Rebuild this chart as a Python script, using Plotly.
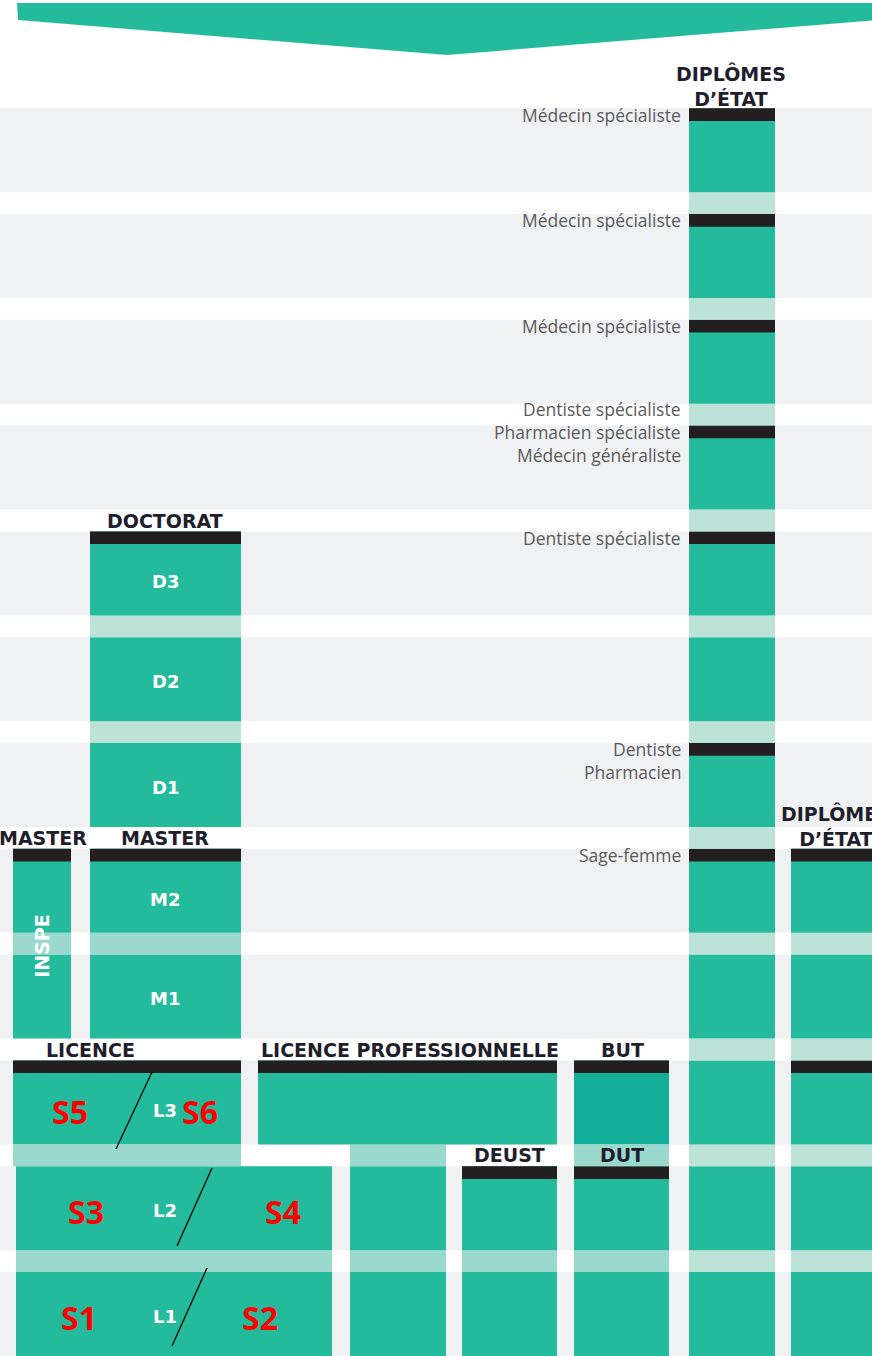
import plotly.graph_objects as go

# ---------------- DATA ----------------
years = list(range(1, 13))  # années après le bac

col_names = ["Licence L1-L2", "Licence L3", "Passerelle LP", "Licence professionnelle",
             "DEUST", "DUT", "BUT", "Master INSPE", "Master", "Doctorat",
             "Diplômes d'État santé", "Diplômes d'État paramédicaux"]
col_first = [1, 3, 1, 3, 1, 1, 3, 4, 4, 6, 1, 1]
col_last = [2, 3, 2, 3, 2, 2, 3, 5, 5, 8, 12, 5]
col_exits = [[], [3], [], [3], [2], [2], [3], [5], [5], [8], [5, 6, 8, 9, 10, 11, 12], [3, 5]]
col_band_before = [False, True, False, False, False, False, True, False, False, False, False, False]
col_band_after = [False, False, True, False, False, False, False, False, False, False, False, False]
col_year_labels = [{1: "L1", 2: "L2"}, {3: "L3"}, {}, {}, {}, {}, {}, {}, {4: "M1", 5: "M2"},
                   {6: "D1", 7: "D2", 8: "D3"}, {}, {}]

header_texts = ["DIPLÔMES<br>D’ÉTAT", "DOCTORAT", "MASTER", "MASTER", "DIPLÔMES<br>D’ÉTAT",
                "LICENCE", "LICENCE PROFESSIONNELLE", "BUT", "DEUST", "DUT"]
header_year = [12, 8, 5, 5, 5, 3, 3, 3, 2, 2]

sante_years = [12, 11, 10, 9, 8, 6, 5]
sante_labels = [["Médecin spécialiste"], ["Médecin spécialiste"], ["Médecin spécialiste"],
                ["Dentiste spécialiste", "Pharmacien spécialiste", "Médecin généraliste"],
                ["Dentiste spécialiste"], ["Dentiste", "Pharmacien"], ["Sage-femme"]]
sante_first_line = [0, 0, 0, -1, 0, 0, 0]

sem_names = ["S1", "S2", "S3", "S4", "S5", "S6"]
sem_year = [1, 1, 2, 2, 3, 3]

inspe_label = "INSPE"

# ---------------- LAYOUT / STYLE ----------------
FIG_W, FIG_H = 872, 1356
PX_PER_YEAR = 105.8
Y_MAX = FIG_H / PX_PER_YEAR
BAND = 0.794
BAR = 0.12

col_x0 = [16, 13, 350, 258, 462, 574, 574, 13, 90, 90, 689, 791]
col_x1 = [332, 241, 446, 557, 557, 669, 669, 71, 241, 241, 775, 882]
col_label_x = [165, 165, None, None, None, None, None, 42, 165, 165, None, None]
header_x = [731, 165, 43, 165, 836, 90, 410, 622, 509, 622]
sem_x = [79, 260, 86, 283, 70, 200]
sante_label_x = 683
slash_top = [(152, 1072), (212, 1168), (207, 1268)]
slash_bot = [(116, 1149), (177, 1246), (172, 1346)]

GREEN = "#24bb9c"
GREEN_DARK = "#13ae97"
BLACK = "#231f20"
LIGHT_A = "#bde2d8"
LIGHT_B = "#9bd9cf"
GREY = "#f0f1f3"
col_fill = [GREEN] * 6 + [GREEN_DARK] + [GREEN] * 5
col_light = [LIGHT_B] * 9 + [LIGHT_A] * 3

HEAD_FONT = dict(family="DejaVu Sans", size=19, color="#1e1e2c", weight="bold")
BOX_FONT = dict(family="DejaVu Sans", size=18, color="white", weight="bold")
JOB_FONT = dict(family="Open Sans", size=17.5, color="#5a5a5a")
SEM_FONT = dict(family="Open Sans", size=32, color="#ff0000", weight="bold")


def bb(k):
    return k - 1


def bt(k):
    return k - 1 + BAND


def py(p):
    return (FIG_H - p) / PX_PER_YEAR


shapes = []
annotations = []


def rect(x0, x1, y0, y1, color):
    shapes.append(dict(type="rect", xref="x", yref="y", x0=x0, x1=x1, y0=y0, y1=y1,
                       fillcolor=color, line=dict(width=0), layer="above"))


# grey year rows
for k in years:
    rect(0, FIG_W + 10, bb(k), bt(k), GREY)

# top arrow
shapes.append(dict(type="path", xref="x", yref="y",
                   path=f"M 17,{py(3)} L {FIG_W + 6},{py(3)} L {FIG_W + 6},{py(20)} "
                        f"L 447,{py(55)} L 18,{py(20)} Z",
                   fillcolor=GREEN, line=dict(width=0)))

# formation columns
for i, name in enumerate(col_names):
    x0, x1 = col_x0[i], col_x1[i]
    for k in range(col_first[i], col_last[i] + 1):
        rect(x0, x1, bb(k), bt(k), col_fill[i])
        if k in col_exits[i]:
            rect(x0, x1, bt(k) - BAR, bt(k), BLACK)
        if k < col_last[i]:
            rect(x0, x1, bt(k), bb(k + 1), col_light[i])
        if k in col_year_labels[i]:
            top = bt(k) - (BAR if k in col_exits[i] else 0)
            annotations.append(dict(x=col_label_x[i], y=(bb(k) + top) / 2, text=col_year_labels[i][k],
                                    showarrow=False, font=BOX_FONT, xanchor="center", yanchor="middle",
                                    yshift=-2))
    if col_band_before[i]:
        f = col_first[i] - 1
        rect(x0, x1, bt(f), bb(f + 1), col_light[i])
    if col_band_after[i]:
        l = col_last[i]
        rect(x0, x1, bt(l), bb(l + 1), col_light[i])

# INSPE vertical label
ii = col_names.index("Master INSPE")
annotations.append(dict(x=col_label_x[ii], y=(bb(col_first[ii]) + bt(col_last[ii]) - BAR) / 2 + 0.04,
                        text=inspe_label, textangle=-90, showarrow=False,
                        font=dict(family="DejaVu Sans", size=19, color="white", weight="bold")))

# headers
for t, k, x in zip(header_texts, header_year, header_x):
    two = "<br>" in t
    annotations.append(dict(x=x, y=k - (1 - BAND) / 2, text=t, showarrow=False, font=HEAD_FONT,
                            xanchor="center", yanchor="middle", yshift=11.5 if two else 0))

# santé job labels
for k, lines, off in zip(sante_years, sante_labels, sante_first_line):
    for j, line in enumerate(lines):
        annotations.append(dict(x=sante_label_x, y=bt(k) - BAR / 2, text=line, showarrow=False,
                                font=JOB_FONT, xanchor="right", yanchor="middle",
                                yshift=-(off + j) * 23))

# semesters (red)
for s, k, x in zip(sem_names, sem_year, sem_x):
    top = bt(k) - (BAR if k == 3 else 0)
    annotations.append(dict(x=x, y=(bb(k) + top) / 2, text=s, showarrow=False, font=SEM_FONT,
                            xanchor="center", yanchor="middle", yshift=-3))

# hand-drawn slashes
for (xa, ya), (xb, yb) in zip(slash_top, slash_bot):
    shapes.append(dict(type="line", xref="x", yref="y", x0=xa, y0=py(ya), x1=xb, y1=py(yb),
                       line=dict(color="black", width=1.3)))

fig = go.Figure()
fig.add_trace(go.Scatter(x=[0], y=[0], mode="markers", marker=dict(opacity=0), hoverinfo="skip",
                         showlegend=False))
fig.update_layout(
    width=FIG_W, height=FIG_H, margin=dict(l=0, r=0, t=0, b=0),
    paper_bgcolor="white", plot_bgcolor="white",
    xaxis=dict(range=[0, FIG_W], visible=False, fixedrange=True),
    yaxis=dict(range=[0, Y_MAX], visible=False, fixedrange=True),
    shapes=shapes, annotations=annotations, showlegend=False,
)
fig.write_html("out.html", config={"displayModeBar": False},
               post_script="document.body.style.margin='0';document.body.style.overflow='hidden';")
